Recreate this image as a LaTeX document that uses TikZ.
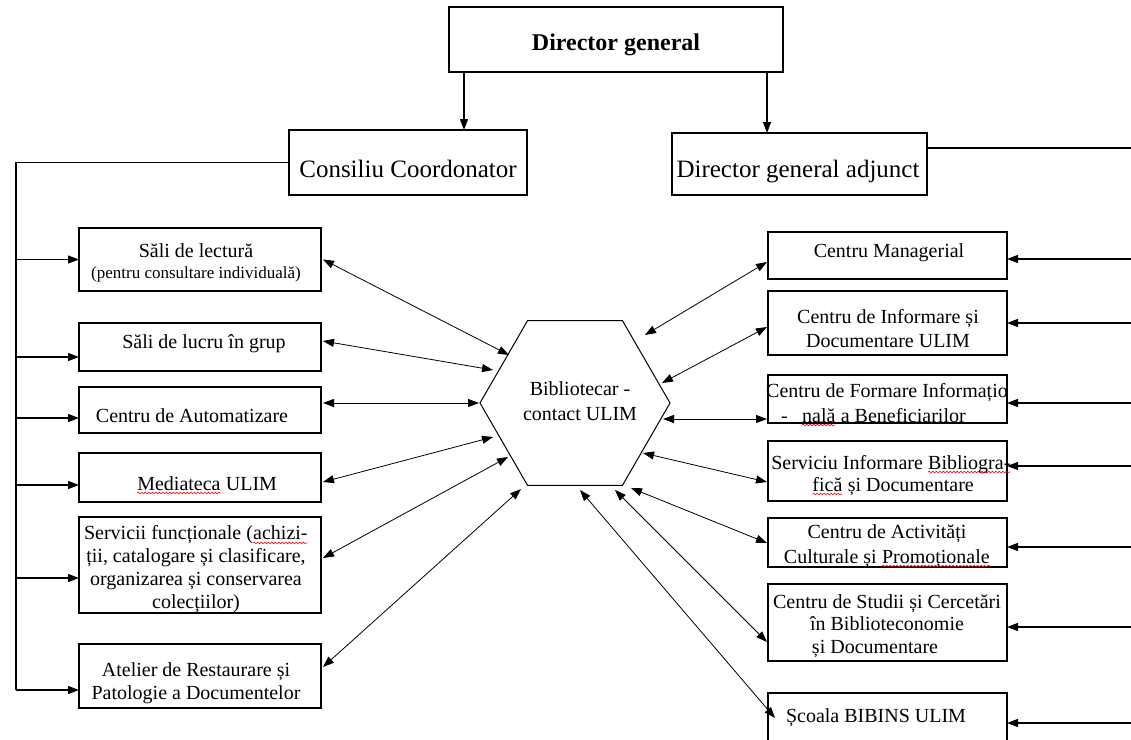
\documentclass[tikz,border=0pt]{standalone}
\usepackage{fontspec}
\setmainfont{Liberation Serif}
\usetikzlibrary{arrows.meta,shapes.geometric,decorations.pathmorphing,calc}
\tikzset{squig/.style={red,line width=0.6pt,decorate,decoration={snake,amplitude=0.8pt,segment length=3.5pt}}}
\newcommand{\sq}[1]{\tikz[baseline=(w.base)]{\node[inner sep=0pt,outer sep=0pt,draw=none,fill=none,rectangle,minimum width=0pt,minimum height=0pt,anchor=base](w){#1};\draw[squig]([yshift=-3pt]w.base west)--([yshift=-3pt]w.base east);}}
\begin{document}
\begin{tikzpicture}[x=1pt,y=-1pt,
 bx/.style={draw,line width=1.2pt,rectangle,inner sep=0pt,outer sep=0pt},
 tx/.style={font=\fontsize{20}{23}\selectfont,align=center,inner sep=0pt,anchor=base},
 big/.style={font=\fontsize{25}{28}\selectfont,inner sep=0pt,anchor=base},
 ln/.style={line width=1.1pt},
 arr/.style={line width=1.1pt,-{Triangle[length=11pt,width=8pt]}},
 dbl/.style={line width=0.8pt,{Triangle[length=11pt,width=8pt]}-{Triangle[length=11pt,width=8pt]}}]
\fill[white] (0,0) rectangle (1131,739);
\useasboundingbox (0,0) rectangle (1131,739);

% ---- top level
\node[bx,minimum width=334pt,minimum height=65pt,line width=1.3pt] (dg) at (616,39.5) {};
\node[big,font=\fontsize{24}{28}\selectfont\bfseries] (tdg) at (616,50) {Director general};
\node[bx,minimum width=238pt,minimum height=65pt] (cc) at (408,162.5) {};
\node[big] (tcc) at (408,177) {Consiliu Coordonator};
\node[bx,minimum width=255pt,minimum height=62pt] (ad) at (799.5,164) {};
\node[big] (tad) at (798,177) {Director general adjunct};
\draw[arr] ([xshift=-152pt]dg.south) -- ([xshift=-152pt]dg.south |- cc.north);
\draw[arr] ([xshift=151pt]dg.south) -- ([xshift=151pt]dg.south |- ad.north);

% ---- hexagon
\node[draw,line width=1pt,regular polygon,regular polygon sides=6,minimum size=190pt,inner sep=0pt,outer sep=0pt] (hx) at (575,403) {};
\node[tx,font=\fontsize{20}{25}\selectfont] (thx) at (580,420) {Bibliotecar -\\contact ULIM};

% ---- left boxes
\node[bx,minimum width=242pt,minimum height=63pt] (b1) at (200,259.5) {};
\node[bx,minimum width=242pt,minimum height=48pt] (b2) at (200,347) {};
\node[bx,minimum width=242pt,minimum height=46pt] (b3) at (200,410) {};
\node[bx,minimum width=242pt,minimum height=49pt] (b4) at (200,477.5) {};
\node[bx,minimum width=242pt,minimum height=96pt] (b5) at (200,565) {};
\node[bx,minimum width=242pt,minimum height=64pt] (b6) at (200,676) {};

\node[tx] (t1) at (196,257) {Săli de lectură};
\node[tx,font=\fontsize{17}{20}\selectfont] (t1b) at (196,278) {(pentru consultare individuală)};
\node[tx] (t2) at (204,348) {Săli de lucru în grup};
\node[tx] (t3) at (192,422) {Centru de Automatizare};
\node[tx] (t4) at (207,490) {\sq{Mediateca} ULIM};
\node[tx,font=\fontsize{20}{22.7}\selectfont] (t5) at (196,608) {Servicii funcționale (\sq{achizi-}\\ții, catalogare și clasificare,\\organizarea și conservarea\\colecțiilor)};
\node[tx] (t6) at (196,699) {Atelier de Restaurare și\\Patologie a Documentelor};

% ---- right boxes
\node[bx,minimum width=239pt,minimum height=47pt] (r1) at (887.5,255.5) {};
\node[bx,minimum width=239pt,minimum height=64pt] (r2) at (887.5,323) {};
\node[bx,minimum width=239pt,minimum height=48pt] (r3) at (887.5,399) {};
\node[bx,minimum width=239pt,minimum height=60pt] (r4) at (887.5,471) {};
\node[bx,minimum width=239pt,minimum height=49pt] (r5) at (887.5,542.5) {};
\node[bx,minimum width=239pt,minimum height=77pt] (r6) at (887.5,622.5) {};
\node[bx,minimum width=239pt,minimum height=59pt] (r7) at (887.5,722.5) {};

\node[tx] (u1) at (889,257) {Centru Managerial};
\node[tx,font=\fontsize{20}{24}\selectfont] (u2) at (888,347) {Centru de Informare și\\Documentare ULIM};
\node[tx] (u3) at (887,397) {Centru de Formare Informațio};
\node[tx,anchor=base west] (u3b) at (781,422) {-\hspace{14pt}\sq{nală} a Beneficiarilor};
\node[tx] (u4) at (891,469) {Serviciu Informare \sq{Bibliogra-}};
\node[tx] (u4b) at (893,491) {\sq{fică} și Documentare};
\node[tx,font=\fontsize{20}{25}\selectfont] (u5) at (887,563) {Centru de Activități\\Culturale și \sq{Promoționale}};
\node[tx,font=\fontsize{20}{22.5}\selectfont] (u6) at (887,653) {Centru de Studii și Cercetări\\în Biblioteconomie\hspace*{24pt}\\și Documentare\hspace*{24pt}};
\node[tx] (u7) at (876,722) {Școala BIBINS ULIM};

% ---- left trunk
\coordinate (LB) at (16,690);
\draw[ln] (cc.west) -| (LB);
\coordinate (a1) at (b1.west);
\coordinate (a2) at ([yshift=-10pt]b2.west);
\coordinate (a3) at ([yshift=-8pt]b3.west);
\coordinate (a4) at ([yshift=-7.5pt]b4.west);
\coordinate (a5) at ([yshift=-13pt]b5.west);
\coordinate (a6) at ([yshift=-14pt]b6.west);
\foreach \i in {1,...,6} \draw[arr] (a\i -| LB) -- (a\i);

% ---- right trunk
\coordinate (RT) at (1131,148);
\coordinate (ae) at ([yshift=16pt]ad.east);
\draw[ln] (ae) -- (ae -| RT);
\coordinate (c1) at ([yshift=-3.5pt]r1.east);
\coordinate (c2) at (r2.east);
\coordinate (c3) at ([yshift=-4pt]r3.east);
\coordinate (c4) at ([yshift=5pt]r4.east);
\coordinate (c5) at ([yshift=-4.5pt]r5.east);
\coordinate (c6) at ([yshift=-4.5pt]r6.east);
\coordinate (c7) at ([yshift=-0.5pt]r7.east);
\foreach \i in {1,...,7} \draw[arr] (c\i -| RT) -- (c\i);

% ---- hexagon links, left
\coordinate (hl1) at (509,355);
\coordinate (hl2) at (493,370);
\coordinate (hl3) at (479,403);
\coordinate (hl4) at (493,437);
\coordinate (hl5) at (508,457);
\coordinate (hl6) at (521,489);
\coordinate (e1) at ([xshift=2pt]b1.east);
\coordinate (e2) at ([xshift=2pt,yshift=6pt]b2.east);
\coordinate (e3) at ([xshift=2pt,yshift=7pt]b3.east);
\coordinate (e4) at ([xshift=2pt,yshift=-4.5pt]b4.east);
\coordinate (e5) at ([xshift=2pt,yshift=7pt]b5.east);
\coordinate (e6) at ([xshift=2pt,yshift=9pt]b6.east);
\foreach \i in {1,...,6} \draw[dbl] (e\i) -- (hl\i);

% ---- hexagon links, right
\coordinate (hr1) at (645,335);
\coordinate (hr2) at (662,383);
\coordinate (hr3) at (663,419);
\coordinate (hr4) at (643,453);
\coordinate (hr5) at (631,488);
\coordinate (hr6) at (615,490);
\coordinate (hr7) at (580,490);
\coordinate (f1) at ([xshift=-1pt,yshift=-6.5pt]r1.west);
\coordinate (f2) at ([xshift=-1pt,yshift=-4pt]r2.west);
\coordinate (f3) at ([xshift=-1pt,yshift=-20pt]r3.west);
\coordinate (f4) at ([xshift=-1pt,yshift=-11pt]r4.west);
\coordinate (f5) at ([xshift=-1pt,yshift=-0.5pt]r5.west);
\coordinate (f6) at ([xshift=-1pt,yshift=-19.5pt]r6.west);
\coordinate (f7) at ([xshift=7pt,yshift=4.5pt]r7.west);
\foreach \i in {1,...,7} \draw[dbl] (hr\i) -- (f\i);
\end{tikzpicture}
\end{document}
